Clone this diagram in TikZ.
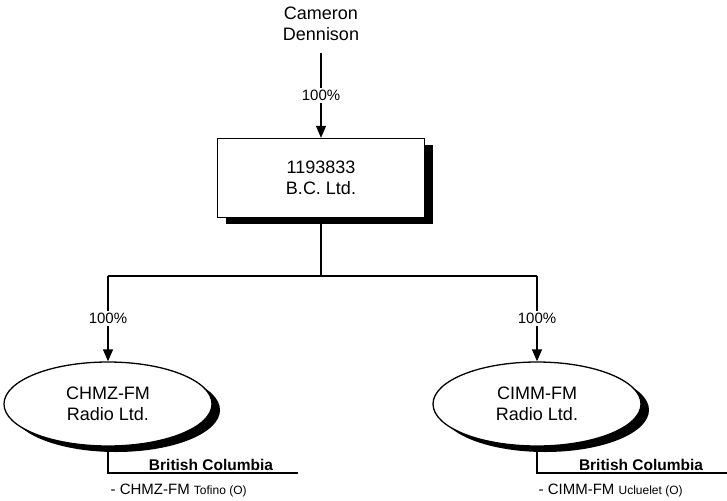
\documentclass[tikz,border=0pt]{standalone}
\usepackage{fontspec}
\setmainfont{Liberation Sans}
\usetikzlibrary{arrows.meta,shapes.geometric,shadows}
\tikzset{%
    >={Triangle[length=12pt,width=10pt]}
}

\begin{document}
\begin{tikzpicture}[x=1pt, y=-1pt, line width=1.3pt,
  every node/.style={align=center, font=\fontsize{18}{21}\selectfont},
  shade/.style={drop shadow={shadow xshift=8pt, shadow yshift=-6pt, fill=black, opacity=1}},
  corp/.style={draw, fill=white, minimum width=207pt, minimum height=79pt, shade},
  radio/.style={draw, fill=white, ellipse, minimum width=208pt, minimum height=84pt, inner sep=0pt, shade},
  pct/.style={fill=white, inner sep=2pt, font=\fontsize{15}{17}\selectfont},
  prov/.style={anchor=base, inner sep=0pt, font=\fontsize{15.5}{17}\selectfont\bfseries},
  stn/.style={anchor=base west, inner sep=0pt, font=\fontsize{15}{17}\selectfont}]
  \useasboundingbox (0,0) rectangle (727,500);

  \node (owner) at (321,24) {Cameron\\Dennison};
  \node[corp] (hold) at (321,178) {1193833\\B.C. Ltd.};
  \draw[->] ([yshift=-8pt]owner.south) -- node[pct] {100\%} (hold.north);

  \node[radio] (chmz) at (108,404) {CHMZ-FM\\Radio Ltd.};
  \node[radio] (cimm) at (537,404) {CIMM-FM\\Radio Ltd.};

  \coordinate (bus) at (321,276);
  \draw (hold.south) -- (bus);
  \draw (bus -| chmz.north) -- (bus -| cimm.north);
  \draw[->] (bus -| chmz.north) -- node[pct] {100\%} (chmz.north);
  \draw[->] (bus -| cimm.north) -- node[pct] {100\%} (cimm.north);

  % stations
  \coordinate (chmzend) at (298,473);
  \coordinate (cimmend) at (727,473);
  \draw (chmz.south) |- (chmzend);
  \draw (cimm.south) |- (cimmend);
  \node[prov] (chmzprov) at (211,470) {British Columbia};
  \node[prov] (cimmprov) at (641,470) {British Columbia};
  \node[stn] (chmzstn) at (110,494) {- CHMZ-FM {\fontsize{12}{14}\selectfont Tofino (O)}};
  \node[stn] (cimmstn) at (538,494) {- CIMM-FM {\fontsize{12}{14}\selectfont Ucluelet (O)}};
\end{tikzpicture}
\end{document}
